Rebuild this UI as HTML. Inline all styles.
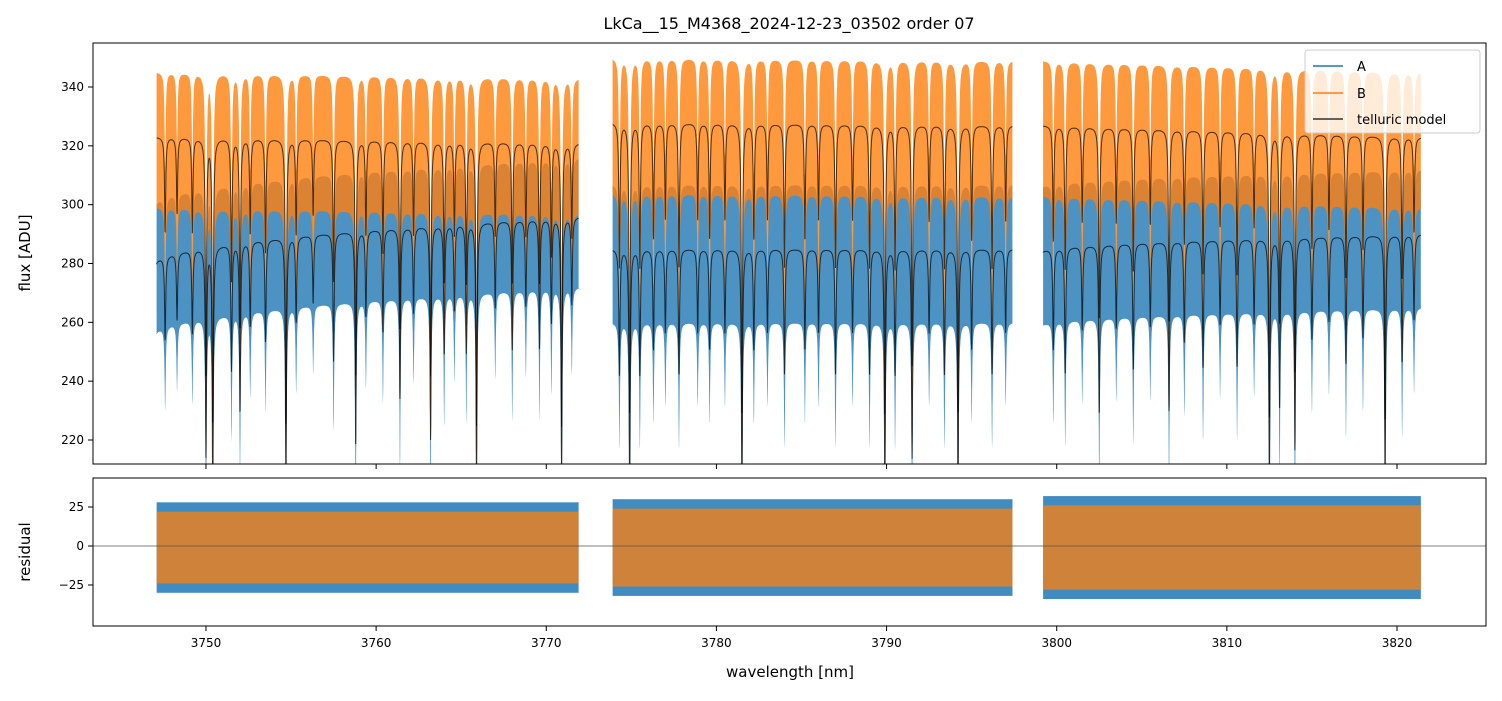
<!DOCTYPE html>
<html><head><meta charset="utf-8">
<style>
body{margin:0;background:#fff;font-family:"Liberation Sans","DejaVu Sans",sans-serif;}
svg text{font-family:"DejaVu Sans","Liberation Sans",sans-serif;}
</style></head>
<body>
<svg id="chart" width="1502" height="696" viewBox="0 0 1502 696" xmlns="http://www.w3.org/2000/svg">
<defs>
<clipPath id="cm"><rect x="93" y="43" width="1393" height="421"/></clipPath>
<clipPath id="cr"><rect x="93" y="478" width="1393" height="148"/></clipPath>
</defs>
<rect width="1502" height="696" fill="#fff"/>
<text x="789" y="29" font-size="16" text-anchor="middle">LkCa__15_M4368_2024-12-23_03502  order 07</text>
<g id="main" clip-path="url(#cm)"></g>
<g id="resid" clip-path="url(#cr)"></g>
<rect x="93" y="43" width="1393" height="421" fill="none" stroke="#000" stroke-width="1"/>
<rect x="93" y="478" width="1393" height="148" fill="none" stroke="#000" stroke-width="1"/>
<g id="ticks"></g>
<text x="30" y="253" font-size="15" text-anchor="middle" transform="rotate(-90 30 253)">flux [ADU]</text>
<text x="30" y="552" font-size="15" text-anchor="middle" transform="rotate(-90 30 552)">residual</text>
<text x="790" y="677" font-size="15" text-anchor="middle">wavelength [nm]</text>
<g>
<rect x="1305" y="50" width="175" height="83" rx="3" fill="#fff" fill-opacity="0.8" stroke="#ccc"/>
<line x1="1313" y1="66" x2="1343" y2="66" stroke="#1f77b4" stroke-width="1.5"/>
<text x="1357" y="71" font-size="13">A</text>
<line x1="1313" y1="93" x2="1343" y2="93" stroke="#ff7f0e" stroke-width="1.5"/>
<text x="1357" y="98" font-size="13">B</text>
<line x1="1313" y1="119" x2="1343" y2="119" stroke="#333" stroke-width="1.5"/>
<text x="1357" y="124" font-size="13">telluric model</text>
</g>
</svg>
<script>
const segStart=[3747.1,3773.9,3799.2];
const segEnd=[3771.9,3797.4,3821.4];
const contA=[[280,296],[285,285],[284,290]];
const contB=[[323,321],[328,327],[327,323]];
const bandUpA=[20,22,22];
const bandDownA=[24,25,25];
const bandUpB=[22,22,22];
const bandDownB=[24,24,24];
const residHi=[28,30,32];
const residLo=[-30,-32,-34];
const lineCenters=[3747.6,3748.3,3749.2,3750.0,3750.4,3751.5,3752.0,3752.6,3753.5,3754.7,3755.3,3756.3,3757.5,3758.8,3759.4,3760.4,3761.4,3762.2,3763.2,3764.0,3764.6,3765.3,3765.9,3767.0,3768.0,3768.8,3769.6,3770.3,3770.9,3771.5,
3774.3,3774.9,3775.5,3776.3,3777.0,3777.8,3778.9,3779.6,3780.5,3781.5,3782.2,3783.0,3784.0,3785.2,3786.0,3787.0,3788.0,3789.0,3789.9,3790.5,3791.5,3792.5,3793.4,3794.2,3795.0,3796.2,3797.0,
3799.8,3800.5,3801.5,3802.5,3803.5,3804.5,3805.5,3806.6,3807.5,3808.6,3809.6,3810.6,3811.6,3812.5,3813.1,3814.0,3815.0,3816.0,3817.0,3818.0,3819.3,3820.3,3821.0];
const lineDepths=[0.1,0.08,0.1,0.25,0.3,0.15,0.2,0.1,0.12,0.3,0.1,0.08,0.15,0.25,0.1,0.12,0.2,0.1,0.25,0.15,0.1,0.15,0.3,0.1,0.15,0.1,0.15,0.12,0.3,0.1,
0.15,0.3,0.15,0.12,0.1,0.15,0.1,0.12,0.1,0.3,0.12,0.1,0.15,0.12,0.1,0.15,0.1,0.15,0.3,0.15,0.25,0.1,0.15,0.3,0.12,0.15,0.1,
0.12,0.15,0.1,0.2,0.1,0.15,0.1,0.2,0.12,0.15,0.1,0.15,0.1,0.3,0.2,0.25,0.12,0.1,0.15,0.12,0.3,0.15,0.1];
const xTicks=[3750,3760,3770,3780,3790,3800,3810,3820];
const yTicks=[220,240,260,280,300,320,340];
const rTicks=[-25,0,25];

const NS="http://www.w3.org/2000/svg";
const X=w=>93+(w-3743.36)/(3825.23-3743.36)*1393;
const Y=v=>43+(354.96-v)/(354.96-211.84)*421;
const R=v=>478+(43.6-v)/(43.6+51.3)*148;
function T(l){let t=1;for(let i=0;i<lineCenters.length;i++){const d=(l-lineCenters[i])/0.04;t*=1-lineDepths[i]/(1+d*d);}return t;}
function mk(tag,attrs,parent){const e=document.createElementNS(NS,tag);for(const k in attrs)e.setAttribute(k,attrs[k]);parent.appendChild(e);return e;}
const main=document.getElementById('main'),resid=document.getElementById('resid'),ticks=document.getElementById('ticks');
const models=[];
for(let s=0;s<3;s++){
  const ptsA=[],ptsB=[];
  for(let l=segStart[s];l<=segEnd[s];l+=0.008){
    const f=(l-segStart[s])/(segEnd[s]-segStart[s]);const t=T(l);
    ptsA.push([l,(contA[s][0]+(contA[s][1]-contA[s][0])*Math.sqrt(f))*t]);
    ptsB.push([l,(contB[s][0]+(contB[s][1]-contB[s][0])*f)*t]);
  }
  models.push([ptsA,ptsB]);
  const band=(pts,up,dn)=>pts.map(p=>X(p[0]).toFixed(1)+','+Y(p[1]+up).toFixed(1)).concat(pts.slice().reverse().map(p=>X(p[0]).toFixed(1)+','+Y(p[1]-dn).toFixed(1))).join(' ');
  const ra=mk('rect',{x:X(segStart[s]),y:R(residHi[s]),width:X(segEnd[s])-X(segStart[s]),height:R(residLo[s])-R(residHi[s]),fill:'#1f77b4','fill-opacity':0.85},resid);
  
  
  const rb=mk('rect',{x:X(segStart[s]),y:R(residHi[s]-6),width:X(segEnd[s])-X(segStart[s]),height:R(residLo[s]+6)-R(residHi[s]-6),fill:'#ff7f0e','fill-opacity':0.75},resid);
  
  
  const ba=mk('polygon',{points:band(ptsA,bandUpA[s],bandDownA[s]),fill:'#1f77b4','fill-opacity':0.8},main);
  
  
  const bb=mk('polygon',{points:band(ptsB,bandUpB[s],bandDownB[s]),fill:'#ff7f0e','fill-opacity':0.8},main);
  
  
}
models.forEach(m=>m.forEach(pts=>{
  const pl=mk('polyline',{points:pts.map(p=>X(p[0]).toFixed(1)+','+Y(p[1]).toFixed(1)).join(' '),fill:'none',stroke:'#000','stroke-opacity':0.7,'stroke-width':1},main);
  
  
}));
const z=mk('line',{x1:93,x2:1486,y1:R(0),y2:R(0),stroke:'#555','stroke-width':0.8},resid);


xTicks.forEach(v=>{
  mk('line',{x1:X(v),x2:X(v),y1:464,y2:469,stroke:'#000'},ticks);
  mk('line',{x1:X(v),x2:X(v),y1:626,y2:631,stroke:'#000'},ticks);
  const t=mk('text',{x:X(v),y:647,'font-size':12,'text-anchor':'middle'},ticks);t.textContent=v;
  
  
});
yTicks.forEach(v=>{
  mk('line',{x1:88,x2:93,y1:Y(v),y2:Y(v),stroke:'#000'},ticks);
  const t=mk('text',{x:84,y:Y(v)+4,'font-size':12,'text-anchor':'end'},ticks);t.textContent=v;
  
  
});
rTicks.forEach(v=>{
  mk('line',{x1:88,x2:93,y1:R(v),y2:R(v),stroke:'#000'},ticks);
  const t=mk('text',{x:84,y:R(v)+4,'font-size':12,'text-anchor':'end'},ticks);t.textContent=v<0?'\u2212'+(-v):v;
  
  
});
</script>
</body></html>
